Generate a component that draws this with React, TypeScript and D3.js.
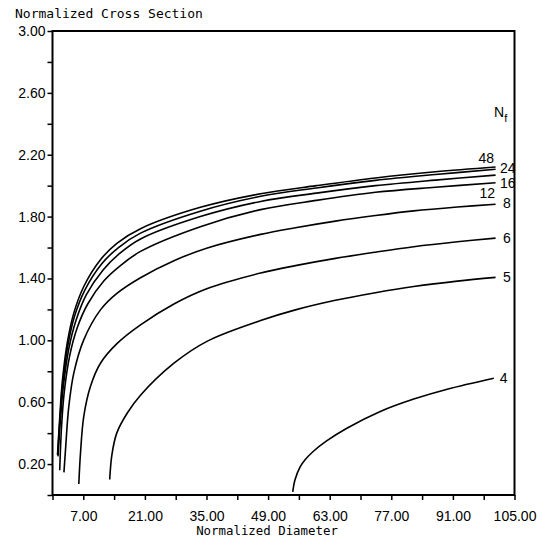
import { useEffect, useRef } from "react";
import * as d3 from "d3";

// curves of normalized cross section vs normalized diameter, one per N_f
const curve48 = [[1.14, 0.26], [1.66, 0.507], [2.2, 0.723], [3.34, 0.982], [4.84, 1.176], [7.11, 1.348], [10.9, 1.521], [14.7, 1.629], [20, 1.722], [33.6, 1.86], [47.3, 1.948], [60, 2.0], [73.4, 2.05], [87, 2.09], [100.7, 2.121]];
const curve24 = [[1.18, 0.26], [1.72, 0.5], [2.3, 0.71], [3.48, 0.965], [5.0, 1.155], [7.35, 1.325], [11.2, 1.495], [15, 1.6], [20, 1.693], [33.6, 1.835], [47.3, 1.931], [60, 1.985], [73.4, 2.034], [87, 2.072], [100.7, 2.106]];
const curve16 = [[1.25, 0.25], [1.8, 0.49], [2.45, 0.7], [3.7, 0.945], [5.3, 1.125], [7.7, 1.295], [11.5, 1.455], [15.2, 1.56], [20, 1.655], [33.6, 1.8], [47.3, 1.898], [60, 1.952], [73.4, 2.0], [87, 2.036], [100.7, 2.068]];
const curve12 = [[1.64, 0.16], [2.05, 0.44], [2.65, 0.66], [3.9, 0.9], [5.6, 1.08], [8, 1.235], [11.7, 1.385], [15.3, 1.48], [20, 1.575], [33.6, 1.735], [47.3, 1.845], [60, 1.905], [73.4, 1.957], [87, 1.99], [100.7, 2.019]];
const curve8 = [[2.6, 0.146], [2.95, 0.29], [3.7, 0.571], [4.84, 0.788], [7.1, 1.003], [10.9, 1.197], [14.7, 1.305], [20, 1.405], [27.6, 1.515], [35.2, 1.597], [47.3, 1.685], [55.2, 1.728], [64.3, 1.771], [73.4, 1.807], [82.1, 1.837], [92, 1.862], [100.7, 1.88]];
const curve6 = [[5.98, 0.071], [6.36, 0.27], [7.1, 0.507], [8.6, 0.7], [10.9, 0.852], [14.7, 0.98], [20, 1.1], [27.6, 1.235], [35.2, 1.335], [47.3, 1.435], [55.2, 1.483], [64.3, 1.53], [73.4, 1.57], [82.1, 1.605], [92, 1.637], [100.7, 1.661]];
const curve5 = [[13.0, 0.1], [13.5, 0.26], [14.6, 0.4], [17, 0.53], [20, 0.645], [27.6, 0.852], [35.2, 0.995], [47.3, 1.128], [55.2, 1.197], [64.3, 1.259], [73.4, 1.308], [82.1, 1.348], [92, 1.383], [100.7, 1.407]];
const curve4 = [[54.6, 0.02], [55.1, 0.097], [56.25, 0.18], [57.4, 0.228], [59.3, 0.283], [62.3, 0.35], [66.9, 0.432], [74.5, 0.54], [82.1, 0.62], [89.7, 0.684], [100.3, 0.755]];

const nfLabels = ["48", "24", "16", "12", "8", "6", "5", "4"];
const curves = [curve48, curve24, curve16, curve12, curve8, curve6, curve5, curve4];

const xTicks = d3.range(0, 106, 7);
const xLabelTicks = [7, 21, 35, 49, 63, 77, 91, 105];
const yTicks = d3.range(0, 3.01, 0.2);
const yLabelTicks = [0.2, 0.6, 1.0, 1.4, 1.8, 2.2, 2.6, 3.0];

// where each N_f label sits relative to the end of its curve
const labelPlace = [
  { dx: -1.5, dy: -4, anchor: "end" },
  { dx: 4.5, dy: 3.7, anchor: "start" },
  { dx: 4.5, dy: 13, anchor: "start" },
  { dx: -0.5, dy: 15, anchor: "end" },
  { dx: 7.5, dy: 4, anchor: "start" },
  { dx: 7.5, dy: 5, anchor: "start" },
  { dx: 7.5, dy: 4.5, anchor: "start" },
  { dx: 6, dy: 4.7, anchor: "start" },
];

export default function App() {
  const svgRef = useRef(null);

  useEffect(() => {
    const width = 543;
    const height = 540;
    const left = 52.5, right = 514.5, top = 31, bottom = 495;

    d3.select(svgRef.current).selectAll("*").remove();
    const svg = d3.select(svgRef.current)
      .attr("width", width)
      .attr("height", height)
      .style("background", "#fff");

    const x = d3.scaleLinear().domain([0, 105]).range([left, right]);
    const y = d3.scaleLinear().domain([0, 3]).range([bottom, top]);

    const tickFont = "'Liberation Sans', Arial, sans-serif";
    const monoFont = "'DejaVu Sans Mono', monospace";

    // frame
    svg.append("rect")
      .attr("x", left).attr("y", top)
      .attr("width", right - left).attr("height", bottom - top)
      .attr("fill", "none").attr("stroke", "#000").attr("stroke-width", 2);

    // x axis
    const xAxis = d3.axisBottom(x)
      .tickValues(xTicks)
      .tickSize(5)
      .tickFormat(d => (xLabelTicks.includes(d) ? d3.format(".2f")(d) : ""));
    const gx = svg.append("g").attr("transform", `translate(0,${bottom})`).call(xAxis);
    gx.select(".domain").remove();
    gx.selectAll("line").attr("stroke-width", 1.5);
    gx.selectAll("text")
      .attr("dy", 0)
      .attr("y", 26)
      .style("font-family", tickFont)
      .style("font-size", "14px")
      .attr("fill", "#000");

    // y axis
    const yAxis = d3.axisLeft(y)
      .tickValues(yTicks)
      .tickSize(5)
      .tickFormat(d => (yLabelTicks.some(v => Math.abs(v - d) < 1e-6) ? d3.format(".2f")(d) : ""));
    const gy = svg.append("g").attr("transform", `translate(${left},0)`).call(yAxis);
    gy.select(".domain").remove();
    gy.selectAll("line").attr("stroke-width", 1.5);
    gy.selectAll("text")
      .attr("x", -7)
      .style("font-family", tickFont)
      .style("font-size", "14px")
      .attr("fill", "#000");

    // titles
    svg.append("text")
      .attr("x", 15).attr("y", 18)
      .style("font-family", monoFont)
      .style("font-size", "13px")
      .text("Normalized Cross Section");

    svg.append("text")
      .attr("x", 267).attr("y", 535)
      .attr("text-anchor", "middle")
      .style("font-family", monoFont)
      .style("font-size", "12.4px")
      .text("Normalized Diameter");

    // curves
    const line = d3.line()
      .x(d => x(d[0]))
      .y(d => y(d[1]))
      .curve(d3.curveCatmullRom.alpha(0.5));

    svg.append("g")
      .selectAll("path")
      .data(curves)
      .enter()
      .append("path")
      .attr("d", d => line(d))
      .attr("fill", "none")
      .attr("stroke", "#000")
      .attr("stroke-width", 1.6);

    // N_f labels
    svg.append("g")
      .selectAll("text")
      .data(curves)
      .enter()
      .append("text")
      .attr("x", (d, i) => x(d[d.length - 1][0]) + labelPlace[i].dx)
      .attr("y", (d, i) => y(d[d.length - 1][1]) + labelPlace[i].dy)
      .attr("text-anchor", (d, i) => labelPlace[i].anchor)
      .style("font-family", tickFont)
      .style("font-size", "14px")
      .text((d, i) => nfLabels[i]);

    const nf = svg.append("text")
      .attr("x", 494).attr("y", 117)
      .style("font-family", tickFont)
      .style("font-size", "14px");
    nf.append("tspan").text("N");
    nf.append("tspan").attr("dy", 5).style("font-size", "11px").text("f");
  }, []);

  return (
    <svg ref={svgRef} style={{ position: "absolute", left: 0, top: 0 }}></svg>
  );
}
